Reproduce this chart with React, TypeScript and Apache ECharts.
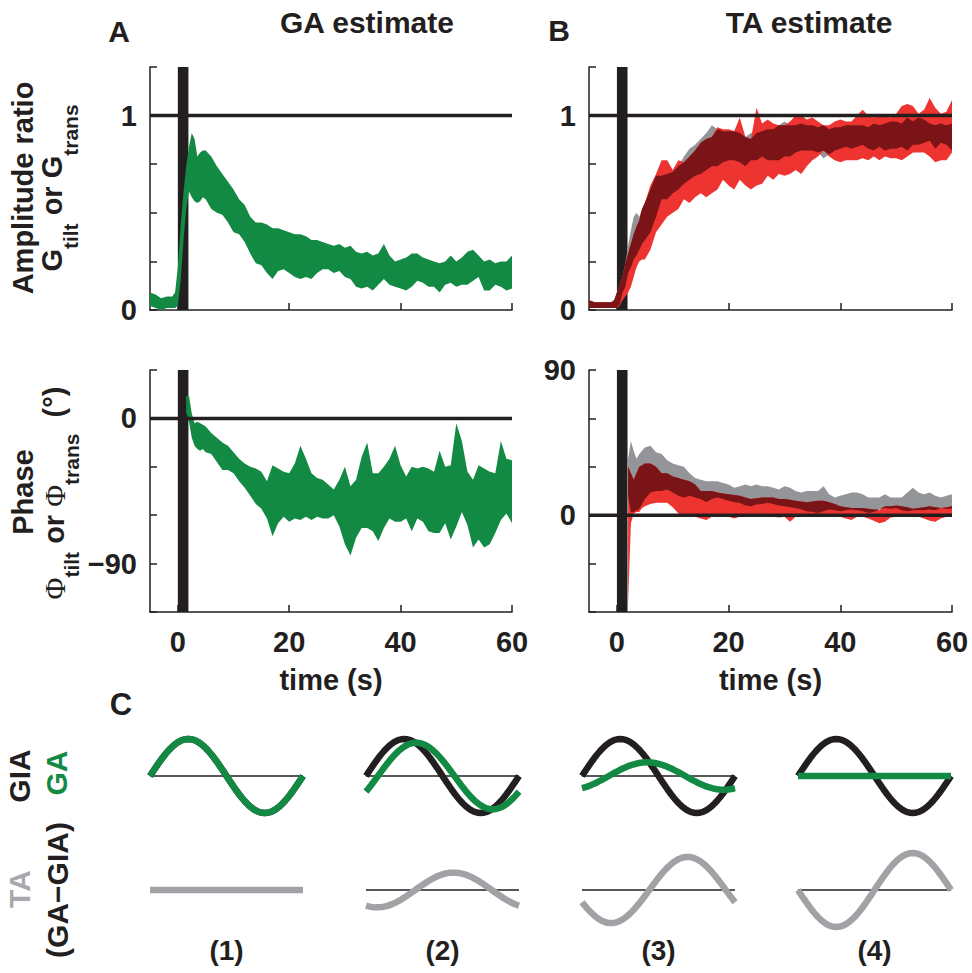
import { useEffect, useRef } from 'react';
import * as echarts from 'echarts';

const INK = '#231f20';
const GREEN = '#138a43';
const RED = '#ee3431';
const DARK_RED = '#7a1417';
const GREY_BAND = '#939598';
const GREY_WAVE = '#a0a2a5';
const GREY_TEXT = '#a7a9ac';
const FAMILY = '"Liberation Sans", Arial, Helvetica, sans-serif';
const SERIF = '"Liberation Serif", "Times New Roman", serif';

// time samples (s)
const T = [-5, -4, -3, -2, -1, -0.5, 0, 0.5, 1, 1.5, 2, 2.5, 3, 3.5, 4, 4.5, 5, 6, 7, 8, 9, 10, 11, 12, 13, 14, 15, 16, 17, 18, 19, 20, 21, 22, 23, 24, 25, 26, 27, 28, 29, 30, 31, 32, 33, 34, 35, 36, 37, 38, 39, 40, 41, 42, 43, 44, 45, 46, 47, 48, 49, 50, 51, 52, 53, 54, 55, 56, 57, 58, 59, 60];

// Panel A, amplitude ratio (GA estimate) band
const gaAmpHi = [0.09, 0.08, 0.06, 0.07, 0.07, 0.09,
  0.22, 0.43, 0.60, 0.74, 0.84, 0.91, 0.88, 0.79, 0.81, 0.82, 0.82,
  0.79, 0.74, 0.70, 0.66, 0.62, 0.57, 0.54, 0.48, 0.45, 0.45,
  0.44, 0.42, 0.42, 0.41, 0.40, 0.39, 0.39, 0.38, 0.36, 0.36,
  0.35, 0.34, 0.33, 0.34, 0.32, 0.33, 0.30, 0.29, 0.30, 0.28,
  0.29, 0.34, 0.28, 0.25, 0.26, 0.27, 0.29, 0.29, 0.27, 0.26,
  0.25, 0.24, 0.25, 0.28, 0.25, 0.27, 0.30, 0.31, 0.28, 0.25,
  0.26, 0.24, 0.25, 0.25, 0.28];
const gaAmpLo = [0.02, 0.01, 0.00, 0.01, 0.01, 0.01,
  0.02, 0.15, 0.35, 0.52, 0.61, 0.58, 0.56, 0.55, 0.56, 0.58, 0.57,
  0.52, 0.50, 0.49, 0.45, 0.40, 0.39, 0.35, 0.29, 0.24, 0.23,
  0.19, 0.16, 0.20, 0.21, 0.19, 0.17, 0.16, 0.17, 0.16, 0.19,
  0.21, 0.21, 0.19, 0.20, 0.17, 0.16, 0.12, 0.11, 0.12, 0.10,
  0.13, 0.16, 0.13, 0.12, 0.11, 0.10, 0.12, 0.15, 0.14, 0.12,
  0.12, 0.09, 0.13, 0.14, 0.12, 0.13, 0.13, 0.15, 0.17, 0.10,
  0.10, 0.13, 0.12, 0.10, 0.11];

// Panel A, phase (deg)
const gaPhaseHi = [null, null, null, null, null, null,
  null, null, null, 14, 14, 3, -3, -2, -3, -4, -5,
  -9, -12, -15, -17, -21, -25, -28, -30, -31, -33,
  -39, -29, -31, -33, -34, -28, -17, -25, -34, -37,
  -38, -41, -44, -38, -30, -42, -38, -24, -15, -34,
  -34, -30, -25, -17, -29, -36, -30, -31, -30, -31,
  -33, -20, -30, -29, -3, -14, -33, -38, -29, -31,
  -33, -34, -14, -25, -26];
const gaPhaseLo = [null, null, null, null, null, null,
  null, null, null, 4, -2, -12, -17, -19, -20, -19, -21,
  -22, -27, -32, -32, -34, -39, -43, -48, -53, -56,
  -62, -73, -65, -61, -64, -62, -63, -61, -63, -61,
  -62, -62, -60, -67, -78, -85, -74, -68, -68, -70,
  -76, -68, -62, -64, -64, -62, -70, -62, -64, -70,
  -71, -71, -65, -75, -67, -58, -66, -80, -75, -80,
  -78, -71, -63, -59, -65];

// Panel B, amplitude ratio: grey and red estimates
const taAmpGreyHi = [0.05, 0.04, 0.04, 0.04, 0.04, 0.05,
  0.09, 0.13, 0.17, 0.24, 0.33, 0.41, 0.48, 0.50, 0.48, 0.52, 0.55,
  0.62, 0.69, 0.69, 0.70, 0.71, 0.74, 0.79, 0.83, 0.85, 0.88,
  0.91, 0.95, 0.93, 0.92, 0.92, 0.92, 0.91, 0.89, 0.91, 0.91,
  0.92, 0.93, 0.93, 0.95, 0.97, 0.95, 0.95, 0.96, 0.95, 0.95,
  0.94, 0.95, 0.93, 0.94, 0.94, 0.95, 0.95, 0.95, 0.95, 0.94,
  0.96, 0.95, 0.96, 0.97, 0.97, 0.96, 0.99, 0.97, 0.99, 0.98,
  0.96, 0.95, 0.96, 0.95, 0.96];
const taAmpGreyLo = [0.01, 0.01, 0.01, 0.01, 0.01, 0.01,
  0.01, 0.03, 0.09, 0.12, 0.19, 0.22, 0.26, 0.28, 0.31, 0.34, 0.36,
  0.40, 0.48, 0.57, 0.57, 0.60, 0.62, 0.65, 0.67, 0.69, 0.70,
  0.72, 0.74, 0.74, 0.76, 0.77, 0.77, 0.76, 0.74, 0.77, 0.77,
  0.79, 0.77, 0.77, 0.77, 0.79, 0.79, 0.81, 0.82, 0.82, 0.82,
  0.81, 0.78, 0.80, 0.82, 0.83, 0.84, 0.83, 0.84, 0.85, 0.83,
  0.82, 0.84, 0.82, 0.83, 0.83, 0.84, 0.82, 0.85, 0.85, 0.86,
  0.87, 0.83, 0.86, 0.85, 0.82];
const taAmpRedHi = [0.05, 0.04, 0.04, 0.04, 0.04, 0.05,
  0.09, 0.13, 0.17, 0.24, 0.29, 0.34, 0.39, 0.43, 0.46, 0.52, 0.55,
  0.64, 0.70, 0.77, 0.77, 0.72, 0.77, 0.76, 0.79, 0.82, 0.86,
  0.88, 0.89, 0.94, 0.93, 0.93, 0.92, 0.99, 0.89, 0.88, 1.04,
  0.96, 0.98, 0.96, 0.95, 0.95, 0.97, 1.00, 1.00, 0.98, 0.99,
  0.97, 0.95, 0.95, 0.97, 0.98, 0.97, 0.97, 1.00, 1.03, 1.00,
  0.99, 1.01, 1.00, 0.99, 1.01, 1.05, 1.06, 1.05, 1.01, 1.03,
  1.09, 1.04, 1.01, 1.02, 1.08];
const taAmpRedLo = [0.01, 0.01, 0.01, 0.01, 0.01, 0.01,
  0.01, 0.02, 0.05, 0.07, 0.09, 0.12, 0.17, 0.22, 0.25, 0.26, 0.26,
  0.31, 0.40, 0.44, 0.48, 0.50, 0.52, 0.57, 0.55, 0.58, 0.60,
  0.58, 0.60, 0.62, 0.67, 0.64, 0.62, 0.67, 0.64, 0.62, 0.64,
  0.65, 0.69, 0.67, 0.70, 0.69, 0.70, 0.72, 0.70, 0.74, 0.77,
  0.79, 0.82, 0.79, 0.77, 0.76, 0.77, 0.77, 0.77, 0.78, 0.77,
  0.79, 0.77, 0.79, 0.78, 0.78, 0.77, 0.79, 0.81, 0.81, 0.81,
  0.79, 0.76, 0.77, 0.77, 0.81];

// Panel B, phase (deg): grey and red estimates
const taPhaseGreyHi = [null, null, null, null, null, null,
  null, null, null, null, 35, 46, 40, 35, 38, 40, 42,
  43, 39, 38, 34, 32, 31, 30, 26, 23, 22,
  21, 21, 21, 20, 19, 17, 18, 19, 18, 19,
  18, 18, 17, 16, 18, 17, 15, 14, 15, 15,
  15, 18, 13, 11, 12, 13, 14, 14, 13, 11,
  11, 11, 13, 11, 11, 11, 14, 17, 14, 13,
  14, 12, 11, 12, 13];
const taPhaseGreyLo = [null, null, null, null, null, null,
  null, null, null, null, 12, 2, 2, 3, 4, 7, 10,
  14, 15, 15, 16, 14, 12, 11, 12, 11, 10,
  8, 10, 11, 10, 9, 8, 7.7, 6, 5.6, 6.6,
  7, 7.7, 7, 6, 5.6, 5, 4.5, 3.5, 2.5, 2,
  1.4, 2.5, 3.5, 3, 2.5, 3, 3.5, 3, 2.5, 1.4,
  2, 3.5, 4.5, 4, 4.5, 3, 2.5, 3, 3, 3,
  3.5, 3, 4.5, 4, 4];
const taPhaseRedHi = [null, null, null, null, null, null,
  null, null, null, null, 30, 26, 22, 26, 30, 31, 32,
  32, 30, 26, 26, 24, 23, 22, 21, 19, 15,
  15, 15, 14, 13.5, 13, 12.5, 12, 11, 10, 10.5,
  11, 11, 11, 10, 10, 9.5, 9, 8.5, 8, 8.5,
  9, 9, 8, 7, 5.6, 5, 4.5, 4.5, 4.5, 4,
  3.5, 3, 5.6, 5.6, 6, 5.6, 5, 4, 4.5, 5,
  5.6, 5, 4.5, 5, 5.6];
const taPhaseRedLo = [null, null, null, null, null, null,
  null, null, null, null, -55, -5, 1, 2, 2, 4.5, 5.5,
  7, 7.7, 7.7, 7.7, 5, 1, -1, -1, -1, -2,
  -3, -1, -1, -1, -1, -2, -1, -1, -1, -1,
  -1, -1, -1, -1.5, -1, -4, -1, -1, -1, -1,
  -1, -1, -1, -1, -1, -2, -3, -1, -1, -2,
  -3.5, -5, -4, -1.5, -1, -1, -1, -1, -1, -2,
  -3.5, -4, -2, -1, -1];

// stimulus bar (s) and x ticks
const STIM = [0, 1.9];
const X_TICKS = [0, 20, 40, 60];

// Panel C schematic: GA relative to GIA (amplitude, phase lag in deg)
const gaAmp = [1, 0.9, 0.37, 0];
const gaLagDeg = [0, 28, 63, 0];
const caseLabels = ['(1)', '(2)', '(3)', '(4)'];
const WAVE_STEP = 6;

type Num = number | null;

function intersect(aLo: Num[], aHi: Num[], bLo: Num[], bHi: Num[]) {
  const lo: Num[] = [];
  const hi: Num[] = [];
  for (let i = 0; i < T.length; i++) {
    if (aLo[i] == null || aHi[i] == null || bLo[i] == null || bHi[i] == null) {
      lo.push(null); hi.push(null); continue;
    }
    const l = Math.max(aLo[i] as number, bLo[i] as number);
    const h = Math.min(aHi[i] as number, bHi[i] as number);
    lo.push(l); hi.push(Math.max(l, h));
  }
  return { lo, hi };
}

function bandSeries(gi: number, lo: Num[], hi: Num[], color: string, z: number) {
  const data: number[][] = [];
  for (let i = 0; i < T.length; i++) {
    if (lo[i] != null && hi[i] != null) data.push([T[i], lo[i] as number, hi[i] as number]);
  }
  return {
    type: 'custom',
    xAxisIndex: gi,
    yAxisIndex: gi,
    z,
    silent: true,
    clip: true,
    data,
    encode: { x: 0, y: [1, 2] },
    renderItem: (params: any, api: any) => {
      if (params.dataIndex !== 0) return null;
      const up = data.map((d) => api.coord([d[0], d[2]]));
      const dn = data.map((d) => api.coord([d[0], d[1]])).reverse();
      return { type: 'polygon', shape: { points: up.concat(dn) }, style: { fill: color } };
    },
  };
}

function refSeries(gi: number, yVal: number) {
  return {
    type: 'line',
    xAxisIndex: gi,
    yAxisIndex: gi,
    data: [[-5, yVal], [60, yVal]],
    symbol: 'none',
    silent: true,
    z: 10,
    lineStyle: { color: INK, width: 3.5 },
    markArea: {
      silent: true,
      itemStyle: { color: INK, opacity: 1 },
      data: [[{ xAxis: STIM[0] }, { xAxis: STIM[1] }]],
    },
  };
}

const measureCtx = typeof document !== 'undefined' ? document.createElement('canvas').getContext('2d') : null;
function measure(text: string, font: string) {
  if (!measureCtx) return text.length * 15;
  measureCtx.font = font;
  return measureCtx.measureText(text).width;
}

function textEl(text: string, x: number, y: number, font: string, fill: string, rotation = 0) {
  return {
    type: 'text',
    x,
    y,
    rotation,
    silent: true,
    style: {
      text,
      font,
      fill,
      textAlign: 'center',
      textVerticalAlign: 'middle',
      align: 'center',
      verticalAlign: 'middle',
    },
  };
}

// rotated label with subscripts, built of parts laid end to end
function subLabel(parts: { t: string; font: string; dy: number }[], cx: number, cy: number) {
  const widths = parts.map((p) => measure(p.t, p.font));
  const total = widths.reduce((a, b) => a + b, 0);
  let pos = -total / 2;
  const children = parts.map((p, i) => {
    const el = {
      type: 'text',
      x: pos,
      y: p.dy,
      silent: true,
      style: {
        text: p.t,
        font: p.font,
        fill: INK,
        textAlign: 'left',
        textVerticalAlign: 'middle',
        align: 'left',
        verticalAlign: 'middle',
      },
    };
    pos += widths[i];
    return el;
  });
  return { type: 'group', x: cx, y: cy, rotation: Math.PI / 2, children };
}

function buildOption() {
  const BIG = `bold 29px ${FAMILY}`;
  const MID = `bold 30px ${FAMILY}`;
  const CLAB = `bold 30px ${FAMILY}`;
  const SUB = `bold 21px ${FAMILY}`;
  const PHI = `30px ${SERIF}`;
  const labelStyle = { color: INK, fontSize: 29, fontWeight: 'bold', fontFamily: FAMILY };

  const mainGrids = [
    { left: 150, top: 67, width: 362, height: 243 },
    { left: 589, top: 67, width: 363, height: 243 },
    { left: 150, top: 370, width: 362, height: 242 },
    { left: 589, top: 370, width: 363, height: 242 },
  ];
  const colLeft = [150, 366, 582, 798];
  const rowTop = [739, 853];
  const cGrids: any[] = [];
  for (let r = 0; r < 2; r++) for (let c = 0; c < 4; c++) cGrids.push({ left: colLeft[c], top: rowTop[r], width: 153, height: 74 });
  const grid = [...mainGrids, ...cGrids];

  const axisLine = { onZero: false, lineStyle: { color: INK, width: 1.5 } };
  const xAxes: any[] = [0, 1, 2, 3].map((gi) => ({
    type: 'value',
    gridIndex: gi,
    min: -5,
    max: 60,
    axisLine,
    axisTick: { inside: true, length: 7, customValues: X_TICKS, lineStyle: { color: INK, width: 1.5 } },
    axisLabel: { show: gi >= 2, customValues: X_TICKS, margin: 15, ...labelStyle },
    splitLine: { show: false },
    name: gi >= 2 ? 'time (s)' : '',
    nameLocation: 'middle',
    nameGap: 53,
    nameTextStyle: labelStyle,
  }));
  const yTick = { inside: true, length: 7, lineStyle: { color: INK, width: 1.5 } };
  const yAxes: any[] = [
    { min: 0, max: 1.25, interval: 0.25, show: [0, 1] },
    { min: 0, max: 1.25, interval: 0.25, show: [0, 1] },
    { min: -120, max: 30, interval: 30, show: [0, -90] },
    { min: -60, max: 90, interval: 30, show: [0, 90] },
  ].map((a, gi) => ({
    type: 'value',
    gridIndex: gi,
    min: a.min,
    max: a.max,
    interval: a.interval,
    axisLine,
    axisTick: yTick,
    axisLabel: {
      margin: 13,
      ...labelStyle,
      formatter: (v: number) => (a.show.includes(v) ? (v < 0 ? '\u2212' + Math.abs(v) : String(v)) : ''),
    },
    splitLine: { show: false },
  }));
  for (let k = 0; k < 8; k++) {
    xAxes.push({ type: 'value', gridIndex: 4 + k, min: 0, max: 360, show: false });
    yAxes.push({ type: 'value', gridIndex: 4 + k, min: -1, max: 1, show: false });
  }

  const ampDark = intersect(taAmpGreyLo, taAmpGreyHi, taAmpRedLo, taAmpRedHi);
  const phDark = intersect(taPhaseGreyLo, taPhaseGreyHi, taPhaseRedLo, taPhaseRedHi);

  const series: any[] = [
    bandSeries(0, gaAmpLo, gaAmpHi, GREEN, 2),
    refSeries(0, 1),
    bandSeries(2, gaPhaseLo, gaPhaseHi, GREEN, 2),
    refSeries(2, 0),
    bandSeries(1, taAmpGreyLo, taAmpGreyHi, GREY_BAND, 2),
    bandSeries(1, taAmpRedLo, taAmpRedHi, RED, 3),
    bandSeries(1, ampDark.lo, ampDark.hi, DARK_RED, 4),
    refSeries(1, 1),
    bandSeries(3, taPhaseGreyLo, taPhaseGreyHi, GREY_BAND, 2),
    bandSeries(3, taPhaseRedLo, taPhaseRedHi, RED, 3),
    bandSeries(3, phDark.lo, phDark.hi, DARK_RED, 4),
    refSeries(3, 0),
  ];

  const phases: number[] = [];
  for (let d = 0; d <= 360; d += WAVE_STEP) phases.push(d);
  const rad = Math.PI / 180;
  const line = (gi: number, data: number[][], color: string, width: number, z: number) => ({
    type: 'line',
    xAxisIndex: gi,
    yAxisIndex: gi,
    data,
    symbol: 'none',
    silent: true,
    clip: false,
    z,
    lineStyle: { color, width, cap: 'butt' },
  });
  for (let c = 0; c < 4; c++) {
    const gia = phases.map((d) => Math.sin(d * rad));
    const ga = phases.map((d) => gaAmp[c] * Math.sin((d - gaLagDeg[c]) * rad));
    const ta = phases.map((_, i) => ga[i] - gia[i]);
    const g1 = 4 + c;
    const g2 = 8 + c;
    series.push(line(g1, [[0, 0], [360, 0]], INK, 1.5, 2));
    series.push(line(g1, phases.map((d, i) => [d, gia[i]]), INK, 6.5, 3));
    series.push(line(g1, phases.map((d, i) => [d, ga[i]]), GREEN, 6.5, 4));
    series.push(line(g2, [[0, 0], [360, 0]], INK, 1.5, 2));
    series.push(line(g2, phases.map((d, i) => [d, ta[i]]), GREY_WAVE, 6.5, 3));
  }

  const graphic: any[] = [
    textEl('A', 119, 31, `bold 30px ${FAMILY}`, INK),
    textEl('B', 559, 30, `bold 30px ${FAMILY}`, INK),
    textEl('C', 121, 704, `bold 31px ${FAMILY}`, INK),
    textEl('GA estimate', 367, 22, MID, INK),
    textEl('TA estimate', 809, 22, MID, INK),
    textEl('Amplitude ratio', 23, 188, BIG, INK, Math.PI / 2),
    subLabel([
      { t: 'G', font: BIG, dy: 0 },
      { t: 'tilt', font: SUB, dy: 18 },
      { t: ' or ', font: BIG, dy: 0 },
      { t: 'G', font: BIG, dy: 0 },
      { t: 'trans', font: SUB, dy: 18 },
    ], 52, 188),
    textEl('Phase', 23, 492, BIG, INK, Math.PI / 2),
    subLabel([
      { t: '\u03A6', font: PHI, dy: 0 },
      { t: 'tilt', font: SUB, dy: 17 },
      { t: ' or ', font: BIG, dy: 0 },
      { t: '\u03A6', font: PHI, dy: 0 },
      { t: 'trans', font: SUB, dy: 17 },
      { t: '  (\u00B0)', font: BIG, dy: 0 },
    ], 54, 493),
    textEl('GIA', 19, 776, CLAB, INK, Math.PI / 2),
    textEl('GA', 56, 773, CLAB, GREEN, Math.PI / 2),
    textEl('TA', 19, 889, CLAB, GREY_TEXT, Math.PI / 2),
    textEl('(GA\u2212GIA)', 57, 890, CLAB, INK, Math.PI / 2),
  ];
  caseLabels.forEach((lab, c) => {
    graphic.push(textEl(lab, colLeft[c] + 76.5, 950, `bold 28px ${FAMILY}`, INK));
  });

  return {
    animation: false,
    backgroundColor: '#ffffff',
    grid,
    xAxis: xAxes,
    yAxis: yAxes,
    series,
    graphic,
  };
}

export default function App() {
  const ref = useRef<HTMLDivElement>(null);
  useEffect(() => {
    if (!ref.current) return;
    const chart = echarts.init(ref.current, null, { renderer: 'svg' });
    chart.setOption(buildOption() as any);
    return () => chart.dispose();
  }, []);
  return <div ref={ref} style={{ position: 'absolute', left: 0, top: 0, width: 972, height: 973 }} />;
}
